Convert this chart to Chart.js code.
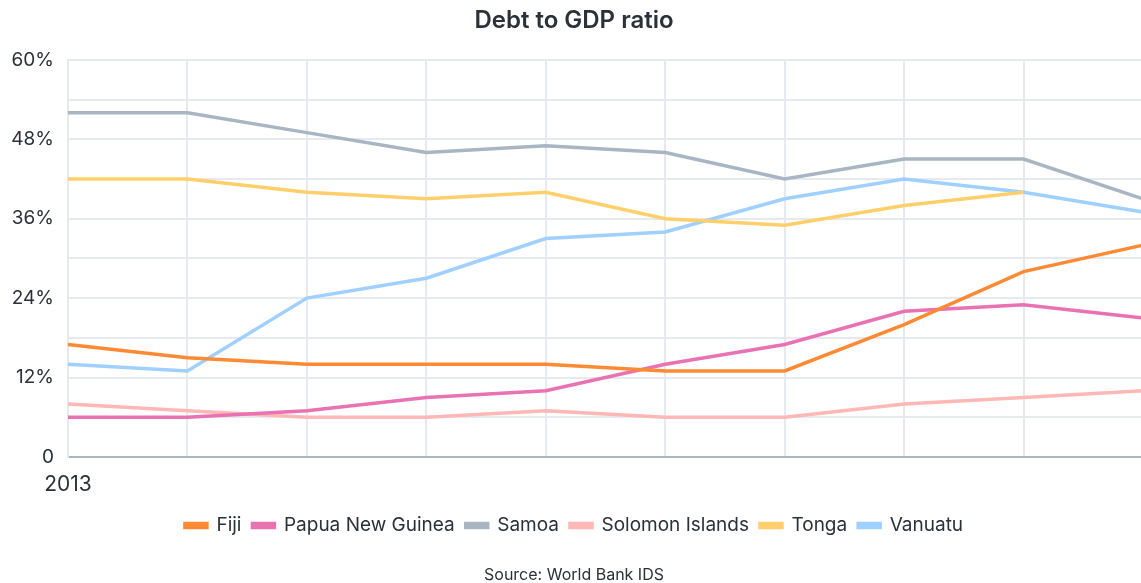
<!DOCTYPE html>
<html>
<head>
<meta charset="utf-8">
<script src="https://cdn.jsdelivr.net/npm/chart.js@4"></script>
<style>
html,body{margin:0;padding:0;background:#fff;overflow:hidden;}
#wrap{width:1158px;height:583px;position:relative;}
</style>
</head>
<body>
<div id="wrap"><canvas id="c"></canvas></div>
<script>
const years = ['2013','2014','2015','2016','2017','2018','2019','2020','2021','2022'];
const fiji      = [17, 15, 14, 14, 14, 13, 13, 20, 28, 32];
const png       = [6, 6, 7, 9, 10, 14, 17, 22, 23, 21];
const samoa     = [52, 52, 49, 46, 47, 46, 42, 45, 45, 39];
const solomon   = [8, 7, 6, 6, 7, 6, 6, 8, 9, 10];
const tonga     = [42, 42, 40, 39, 40, 36, 35, 38, 40, null];
const vanuatu   = [14, 13, 24, 27, 33, 34, 39, 42, 40, 37];
const yTicks = [0, 12, 24, 36, 48, 60];

const FONT = 'Inter, "Noto Sans", sans-serif';
const TEXT = '#2b3138';

function ds(label, data, color){
  return {label, data, borderColor: color, backgroundColor: color, borderWidth: 3.5,
    pointRadius: 0, pointHoverRadius: 0, tension: 0, spanGaps: false};
}

new Chart(document.getElementById('c'), {
  type: 'line',
  data: {
    labels: years,
    datasets: [
      ds('Fiji', fiji, '#ff8a33'),
      ds('Papua New Guinea', png, '#e872b2'),
      ds('Samoa', samoa, '#a8b5c3'),
      ds('Solomon Islands', solomon, '#ffb8b5'),
      ds('Tonga', tonga, '#ffcf6b'),
      ds('Vanuatu', vanuatu, '#9fd0ff')
    ]
  },
  options: {
    responsive: true,
    maintainAspectRatio: false,
    animation: false,
    layout: {padding: {top: 6, right: 10, bottom: 0, left: 0}},
    plugins: {
      title: {display: true, text: 'Debt to GDP ratio', color: TEXT,
        font: {family: FONT, size: 24, weight: '600', lineHeight: 1.2}, padding: {top: 0, bottom: 25}},
      subtitle: {display: true, position: 'bottom', text: 'Source: World Bank IDS', color: TEXT,
        font: {family: FONT, size: 16, lineHeight: 1}, padding: {top: 22, bottom: 0}},
      legend: {position: 'bottom',
        labels: {color: TEXT, font: {family: FONT, size: 19}, boxWidth: 22, boxHeight: 4, padding: 11}},
      tooltip: {enabled: false}
    },
    scales: {
      x: {
        afterFit: function(s){ s.height = 48; },
        grid: {color: '#e6eaf0', lineWidth: 2, drawTicks: false},
        border: {color: '#a9b5c3', width: 2},
        ticks: {color: TEXT, font: {family: FONT, size: 21}, padding: 15, maxRotation: 0, autoSkip: false,
          callback: function(v, i){ return i === 0 ? years[i] : ''; }}
      },
      y: {
        min: 0, max: 60,
        afterFit: function(s){ s.width = 68; },
        grid: {color: '#e6eaf0', lineWidth: 2, drawTicks: false},
        border: {color: '#e6eaf0', width: 2},
        ticks: {stepSize: 6, color: TEXT, font: {family: FONT, size: 19}, padding: 14,
          callback: function(v){ return yTicks.includes(v) ? (v === 0 ? '0' : v + '%') : ''; }}
      }
    }
  }
});
</script>
</body>
</html>
